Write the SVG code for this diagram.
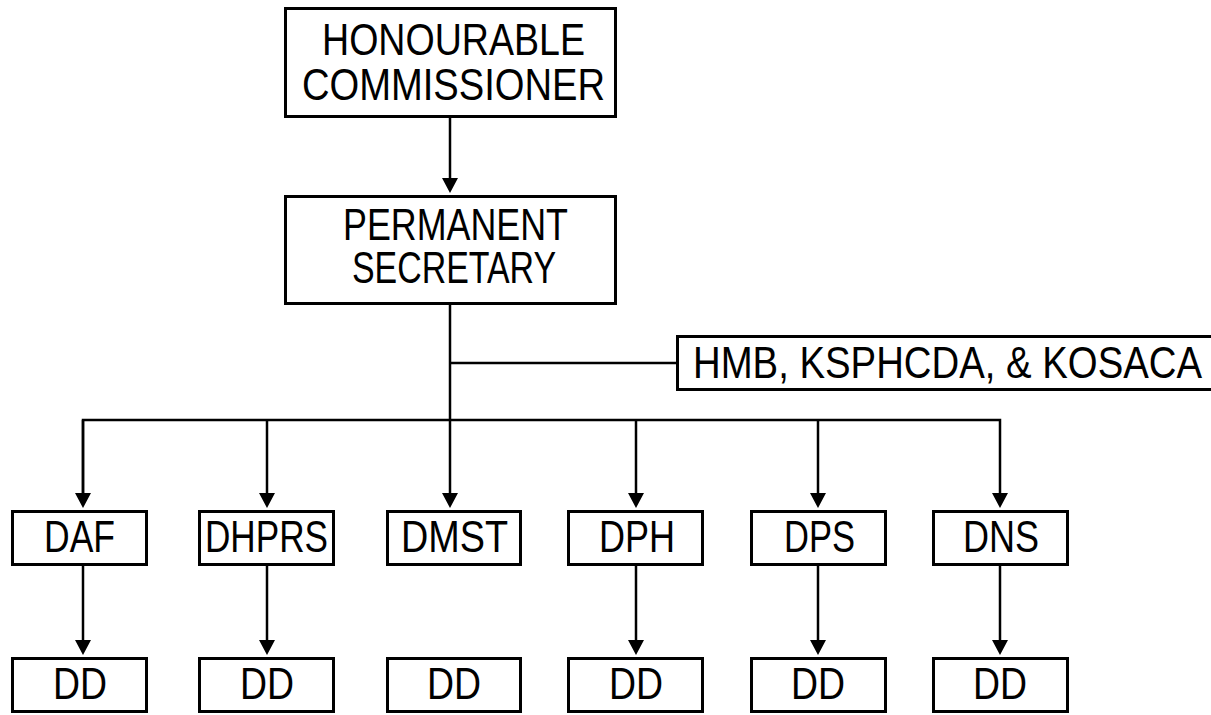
<svg xmlns="http://www.w3.org/2000/svg" width="1211" height="715" viewBox="0 0 1211 715">
<style>
.box{fill:#fff;stroke:#000;stroke-width:3}
.t{font-family:"Liberation Sans Narrow","Liberation Sans",Arial,sans-serif;font-size:44px;fill:#000}
.c{text-anchor:middle}
.ln{fill:none;stroke:#000;stroke-width:2.5}
.ar{fill:none;stroke:#000;stroke-width:2.5;marker-end:url(#ah)}
</style>
<defs>
<marker id="ah" markerUnits="userSpaceOnUse" viewBox="0 0 15 16" markerWidth="15" markerHeight="16" refX="10" refY="8" orient="auto">
<path d="M0,0 L15,8 L0,16 z" fill="#000"/>
</marker>
</defs>
<rect width="1211" height="715" fill="#fff"/>
<g id="connectors">
<line class="ar" x1="450" y1="118" x2="450" y2="188"/>
<line class="ar" x1="450" y1="305" x2="450" y2="503"/>
<line class="ln" x1="450" y1="363" x2="677" y2="363"/>
<polyline class="ln" points="83,503 83,420 1000,420 1000,503" style="marker-end:url(#ah)"/>
<line class="ar" x1="83" y1="420" x2="83" y2="503"/>
<line class="ar" x1="267" y1="420" x2="267" y2="503"/>
<line class="ar" x1="636" y1="420" x2="636" y2="503"/>
<line class="ar" x1="818" y1="420" x2="818" y2="503"/>
<line class="ar" x1="83" y1="566" x2="83" y2="650"/>
<line class="ar" x1="267" y1="566" x2="267" y2="650"/>
<line class="ar" x1="636" y1="566" x2="636" y2="650"/>
<line class="ar" x1="818" y1="566" x2="818" y2="650"/>
<line class="ar" x1="1000" y1="566" x2="1000" y2="650"/>
</g>
<g id="hc">
<rect class="box" x="285.5" y="8.5" width="330" height="108"/>
<text class="t" x="322" y="55" textLength="263" lengthAdjust="spacingAndGlyphs">HONOURABLE</text>
<text class="t" x="302" y="100" textLength="303" lengthAdjust="spacingAndGlyphs">COMMISSIONER</text>
</g>
<g id="ps">
<rect class="box" x="285.5" y="196.5" width="330" height="107"/>
<text class="t" x="343" y="240" textLength="225" lengthAdjust="spacingAndGlyphs">PERMANENT</text>
<text class="t" x="352" y="283" textLength="204" lengthAdjust="spacingAndGlyphs">SECRETARY</text>
</g>
<g id="hmb">
<rect class="box" x="677.5" y="336.5" width="560" height="53"/>
<text class="t" x="693" y="378" textLength="509" lengthAdjust="spacingAndGlyphs">HMB, KSPHCDA, &amp; KOSACA</text>
</g>
<g id="daf">
<rect class="box" x="12.5" y="511.5" width="134" height="53"/>
<text class="t" x="44" y="552" textLength="71" lengthAdjust="spacingAndGlyphs">DAF</text>
</g>
<g id="dhprs">
<rect class="box" x="199.5" y="511.5" width="134" height="53"/>
<text class="t" x="205" y="552" textLength="123" lengthAdjust="spacingAndGlyphs">DHPRS</text>
</g>
<g id="dmst">
<rect class="box" x="387.5" y="511.5" width="133" height="53"/>
<text class="t" x="401" y="552" textLength="107" lengthAdjust="spacingAndGlyphs">DMST</text>
</g>
<g id="dph">
<rect class="box" x="568.5" y="511.5" width="134" height="53"/>
<text class="t" x="599" y="552" textLength="76" lengthAdjust="spacingAndGlyphs">DPH</text>
</g>
<g id="dps">
<rect class="box" x="751.5" y="511.5" width="134" height="53"/>
<text class="t" x="784" y="552" textLength="71" lengthAdjust="spacingAndGlyphs">DPS</text>
</g>
<g id="dns">
<rect class="box" x="933.5" y="511.5" width="134" height="53"/>
<text class="t" x="963" y="552" textLength="76" lengthAdjust="spacingAndGlyphs">DNS</text>
</g>
<g id="dd1">
<rect class="box" x="12.5" y="658.5" width="134" height="53"/>
<text class="t c" x="80" y="699" textLength="54" lengthAdjust="spacingAndGlyphs">DD</text>
</g>
<g id="dd2">
<rect class="box" x="199.5" y="658.5" width="134" height="53"/>
<text class="t c" x="267" y="699" textLength="54" lengthAdjust="spacingAndGlyphs">DD</text>
</g>
<g id="dd3">
<rect class="box" x="387.5" y="658.5" width="133" height="53"/>
<text class="t c" x="454" y="699" textLength="54" lengthAdjust="spacingAndGlyphs">DD</text>
</g>
<g id="dd4">
<rect class="box" x="568.5" y="658.5" width="134" height="53"/>
<text class="t c" x="636" y="699" textLength="54" lengthAdjust="spacingAndGlyphs">DD</text>
</g>
<g id="dd5">
<rect class="box" x="751.5" y="658.5" width="134" height="53"/>
<text class="t c" x="818" y="699" textLength="54" lengthAdjust="spacingAndGlyphs">DD</text>
</g>
<g id="dd6">
<rect class="box" x="933.5" y="658.5" width="134" height="53"/>
<text class="t c" x="1000" y="699" textLength="54" lengthAdjust="spacingAndGlyphs">DD</text>
</g>
</svg>
